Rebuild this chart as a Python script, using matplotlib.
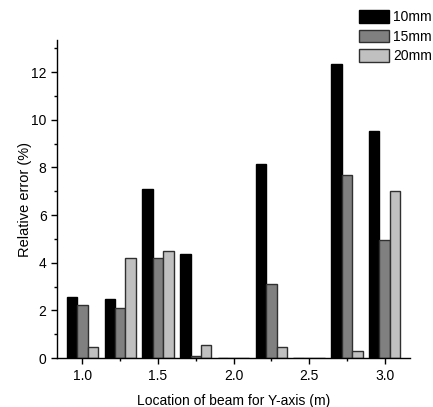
import matplotlib
matplotlib.use("Agg")
import matplotlib.pyplot as plt
import numpy as np
from matplotlib.ticker import MultipleLocator
from matplotlib.font_manager import FontProperties

plt.rcParams['font.family'] = ['Liberation Sans', 'DejaVu Sans']

# data
locations = [1.0, 1.25, 1.5, 1.75, 2.0, 2.25, 2.5, 2.75, 3.0]
err_10mm = [2.56, 2.50, 7.08, 4.35, 0, 8.13, 0, 12.32, 9.54]
err_15mm = [2.25, 2.10, 4.20, 0.11, 0, 3.09, 0, 7.69, 4.95]
err_20mm = [0.46, 4.22, 4.51, 0.57, 0, 0.45, 0, 0.28, 7.02]
series_names = ['10mm', '15mm', '20mm']

fills = ['#000000', '#808080', '#c0c0c0']
edges = ['#000000', '#303030', '#303030']

fig = plt.figure(figsize=(4.33, 4.07), dpi=100)
ax = fig.add_axes([0.1316, 0.120, 0.8154, 0.782])

w = 0.069
x = np.array(locations)
for i, vals in enumerate([err_10mm, err_15mm, err_20mm]):
    ax.bar(x + (i - 1) * w, vals, width=w, color=fills[i], edgecolor=edges[i],
           linewidth=1.0, label=series_names[i])

ax.set_xlim(0.832, 3.168)
ax.set_ylim(0, 13.35)
ax.xaxis.set_major_locator(MultipleLocator(0.5))
ax.xaxis.set_minor_locator(MultipleLocator(0.25))
ax.yaxis.set_major_locator(MultipleLocator(2))
ax.yaxis.set_minor_locator(MultipleLocator(1))
ax.xaxis.set_major_formatter(plt.FormatStrFormatter('%.1f'))

for s in ['top', 'right']:
    ax.spines[s].set_visible(False)
for s in ['left', 'bottom']:
    ax.spines[s].set_linewidth(1.0)

ax.tick_params(which='major', direction='out', length=4, width=1, labelsize=10)
ax.tick_params(which='minor', direction='out', length=2.5, width=1)

ax.set_xlabel('Location of beam for Y-axis (m)', fontsize=10, labelpad=8)
ax.set_ylabel('Relative error (%)', fontsize=10.5, labelpad=-1)

leg_font = FontProperties(family=['Liberation Sans Narrow', 'Liberation Sans'], size=10)
fig.legend(loc='upper left', bbox_to_anchor=(0.828, 0.975), frameon=False,
           prop=leg_font, handlelength=2.2, handleheight=1.0, labelspacing=0.4,
           handletextpad=0.3, borderaxespad=0, borderpad=0)

fig.savefig('out.png', dpi=100)
